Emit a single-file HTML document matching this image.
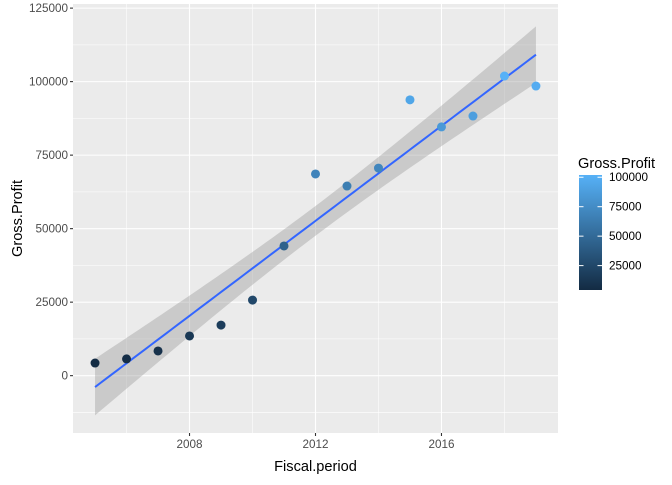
<!DOCTYPE html>
<html><head><meta charset="utf-8"><style>
body{margin:0;background:#fff}
svg{font-family:"Liberation Sans",Arial,sans-serif}
</style></head><body>
<svg id="c" width="672" height="480"></svg>
<script>
const years=[2005,2006,2007,2008,2009,2010,2011,2012,2013,2014,2015,2016,2017,2018,2019];
const profits=[4300,5700,8400,13500,17200,25700,44100,68600,64500,70600,93800,84600,88300,101900,98500];
const xTicks=[2008,2012,2016];
const xMinor=[2006,2010,2014,2018];
const yTicks=[0,25000,50000,75000,100000,125000];
const yMinor=[-12500,12500,37500,62500,87500,112500];
const legendTicks=[25000,50000,75000,100000];

const NS="http://www.w3.org/2000/svg";
const svg=document.getElementById('c');
const L=73,R=558,T=4,B=433;
const x0=2004.3,x1=2019.7,y0=-19500,y1=126400;
const X=v=>L+(v-x0)/(x1-x0)*(R-L);
const Y=v=>B-(v-y0)/(y1-y0)*(B-T);
function mk(tag,a,p){const e=document.createElementNS(NS,tag);for(const k in a)e.setAttribute(k,a[k]);(p||svg).appendChild(e);return e;}

const bg=mk('rect',{x:L,y:T,width:R-L,height:B-T,fill:'#EBEBEB'});


yMinor.forEach(v=>{const l=mk('line',{x1:L,x2:R,y1:Y(v),y2:Y(v),stroke:'#fff','stroke-width':0.55});

});
xMinor.forEach(v=>{const l=mk('line',{x1:X(v),x2:X(v),y1:T,y2:B,stroke:'#fff','stroke-width':0.55});

});
yTicks.forEach(v=>{const l=mk('line',{x1:L,x2:R,y1:Y(v),y2:Y(v),stroke:'#fff','stroke-width':1.1});


const t=mk('line',{x1:L-3,x2:L,y1:Y(v),y2:Y(v),stroke:'#333','stroke-width':1.1});


const tx=mk('text',{x:L-5,y:Y(v)+4,'text-anchor':'end','font-size':11.7,fill:'#4D4D4D'});tx.textContent=v;

});
xTicks.forEach(v=>{const l=mk('line',{x1:X(v),x2:X(v),y1:T,y2:B,stroke:'#fff','stroke-width':1.1});


const t=mk('line',{x1:X(v),x2:X(v),y1:B,y2:B+3,stroke:'#333','stroke-width':1.1});


const tx=mk('text',{x:X(v),y:B+15,'text-anchor':'middle','font-size':11.7,fill:'#4D4D4D'});tx.textContent=v;

});

// regression
const n=years.length;const mx=years.reduce((a,b)=>a+b)/n,my=profits.reduce((a,b)=>a+b)/n;
let sxx=0,sxy=0;years.forEach((x,i)=>{sxx+=(x-mx)**2;sxy+=(x-mx)*(profits[i]-my);});
const b1=sxy/sxx,b0=my-b1*mx;let sse=0;years.forEach((x,i)=>{sse+=(profits[i]-b0-b1*x)**2;});
const s=Math.sqrt(sse/(n-2)),tq=2.160;
const xs=[];for(let i=0;i<=80;i++)xs.push(years[0]+(years[n-1]-years[0])*i/80);
const up=[],lo=[],ln=[];
xs.forEach(x=>{const f=b0+b1*x,se=s*Math.sqrt(1/n+(x-mx)**2/sxx);
up.push(X(x)+','+Y(f+tq*se));lo.push(X(x)+','+Y(f-tq*se));ln.push(X(x)+','+Y(f));});
const band=mk('polygon',{points:up.concat(lo.reverse()).join(' '),fill:'#999','fill-opacity':0.4});


const line=mk('polyline',{points:ln.join(' '),fill:'none',stroke:'#3366FF','stroke-width':2});



const vmin=Math.min(...profits),vmax=Math.max(...profits);
function col(v){const t=(v-vmin)/(vmax-vmin);const a=[0x13,0x2B,0x43],b=[0x56,0xB1,0xF7];
return 'rgb('+a.map((c,i)=>Math.round(c+(b[i]-c)*t)).join(',')+')';}
years.forEach((x,i)=>{const c=mk('circle',{cx:X(x),cy:Y(profits[i]),r:4.5,fill:col(profits[i])});

});

const xt=mk('text',{x:(L+R)/2,y:471,'text-anchor':'middle','font-size':14.6,fill:'#000'});xt.textContent='Fiscal.period';


const yt=mk('text',{x:0,y:0,transform:'translate(22,'+(T+B)/2+') rotate(-90)','text-anchor':'middle','font-size':14.6,fill:'#000'});yt.textContent='Gross.Profit';



// legend
const lt=mk('text',{x:578,y:168,'font-size':14.6,fill:'#000'});lt.textContent='Gross.Profit';


const defs=mk('defs',{});const g=mk('linearGradient',{id:'gr',x1:0,y1:1,x2:0,y2:0},defs);
mk('stop',{offset:0,'stop-color':'#132B43'},g);mk('stop',{offset:1,'stop-color':'#56B1F7'},g);
const LT=175,LB=290,lv0=vmin,lv1=vmax;
const LY=v=>LB-(v-lv0)/(lv1-lv0)*(LB-LT);
const cb=mk('rect',{x:579,y:LT,width:23,height:LB-LT,fill:'url(#gr)'});


legendTicks.forEach(v=>{mk('line',{x1:579,x2:583.5,y1:LY(v),y2:LY(v),stroke:'#fff'});mk('line',{x1:597.5,x2:602,y1:LY(v),y2:LY(v),stroke:'#fff'});
const tx=mk('text',{x:609,y:LY(v)+4,'font-size':11.7,fill:'#000'});tx.textContent=v;

});
</script>
</body></html>
